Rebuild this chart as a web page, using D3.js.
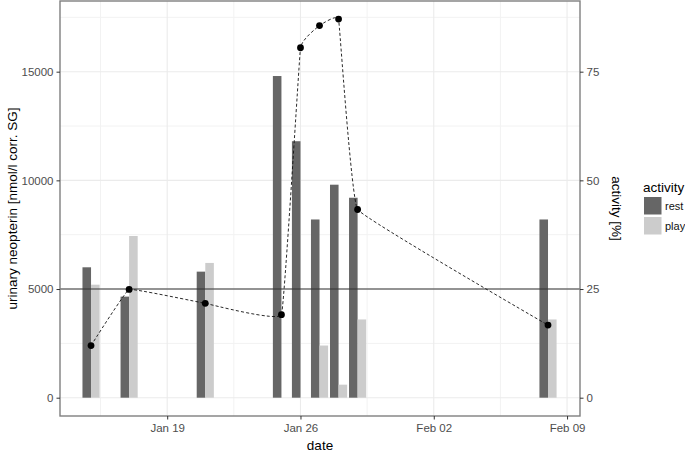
<!DOCTYPE html>
<html>
<head>
<meta charset="utf-8">
<script src="https://cdn.jsdelivr.net/npm/d3@7"></script>
<style>
  body { margin: 0; background: #fff; }
  text { font-family: "Liberation Sans", Arial, sans-serif; }
</style>
</head>
<body>
<svg width="685" height="453"></svg>
<script>
const width = 685;
const height = 453;

// sample dates
const dates = ['2016-01-15', '2016-01-17', '2016-01-21', '2016-01-25', '2016-01-26',
  '2016-01-27', '2016-01-28', '2016-01-29', '2016-02-08'];
// urinary neopterin per activity
const restValues = [6000, 4650, 5800, 14800, 11800, 8200, 9800, 9200, 8200];
const playValues = [5200, 7440, 6200, 0, 0, 2400, 600, 3600, 3600];
// activity [%] (right axis)
const activityPct = [12.0, 24.9, 21.7, 19.1, 80.5, 85.6, 87.1, 43.3, 16.7];

const xTicks = ['2016-01-19', '2016-01-26', '2016-02-02', '2016-02-09'];
const yTicks = [0, 5000, 10000, 15000];
const yMinor = [2500, 7500, 12500, 17500];
const y2Ticks = [0, 25, 50, 75];
const series = ['rest', 'play'];
const colors = ['#666666', '#cccccc'];

const parse = d3.timeParse('%Y-%m-%d');
const day = 864e5;

const margin = {left: 60, right: 105, top: 1, bottom: 37};
const pw = width - margin.left - margin.right;
const ph = height - margin.top - margin.bottom;

const svg = d3.select('svg');
const g = svg.append('g').attr('transform', `translate(${margin.left},${margin.top})`);

const x = d3.scaleTime()
  .domain([new Date(+parse('2016-01-19') - 5.63 * day), new Date(+parse('2016-02-09') + 0.68 * day)])
  .range([0, pw]);
const y = d3.scaleLinear().domain([-842, 18252]).range([ph, 0]);
const y2 = d3.scaleLinear().domain([-842 / 200, 18252 / 200]).range([ph, 0]);

// grid
const xMinor = d3.range(0, 4).map(i => new Date(+parse(xTicks[i]) - 3.5 * day));
g.selectAll('.hminor').data(yMinor).enter().append('line')
  .attr('x1', 0).attr('x2', pw).attr('y1', d => y(d)).attr('y2', d => y(d))
  .attr('stroke', '#f2f2f2').attr('stroke-width', 1);
g.selectAll('.vminor').data(xMinor).enter().append('line')
  .attr('y1', 0).attr('y2', ph).attr('x1', d => x(d)).attr('x2', d => x(d))
  .attr('stroke', '#f2f2f2').attr('stroke-width', 1);
g.selectAll('.hmajor').data(yTicks).enter().append('line')
  .attr('x1', 0).attr('x2', pw).attr('y1', d => y(d)).attr('y2', d => y(d))
  .attr('stroke', '#ebebeb').attr('stroke-width', 1.1);
g.selectAll('.vmajor').data(xTicks).enter().append('line')
  .attr('y1', 0).attr('y2', ph).attr('x1', d => x(parse(d))).attr('x2', d => x(parse(d)))
  .attr('stroke', '#ebebeb').attr('stroke-width', 1.1);

// bars
const barW = x(new Date(+parse(dates[0]) + 0.45 * day)) - x(parse(dates[0]));
const data = dates.map((d, i) => ({date: parse(d), vals: [restValues[i], playValues[i]]}));
data.forEach(d => {
  d.vals.forEach((v, k) => {
    if (v <= 0) return;
    g.append('rect')
      .attr('x', x(d.date) - barW + k * barW)
      .attr('width', barW)
      .attr('y', y(v))
      .attr('height', y(0) - y(v))
      .attr('fill', colors[k]);
  });
});

// reference line
g.append('line').attr('x1', 0).attr('x2', pw)
  .attr('y1', y(5000)).attr('y2', y(5000))
  .attr('stroke', '#333').attr('stroke-width', 1.1);

// activity line
const pts = dates.map((d, i) => [x(parse(d)), y2(activityPct[i])]);
g.append('path')
  .attr('d', d3.line().curve(d3.curveCardinal.tension(0.82))(pts))
  .attr('fill', 'none').attr('stroke', '#111').attr('stroke-width', 0.9)
  .attr('stroke-dasharray', '3,2.2');
g.selectAll('.pt').data(pts).enter().append('circle')
  .attr('cx', d => d[0]).attr('cy', d => d[1]).attr('r', 3.4).attr('fill', '#000');

// border
g.append('rect').attr('width', pw).attr('height', ph)
  .attr('fill', 'none').attr('stroke', '#7f7f7f').attr('stroke-width', 1.4);

// axes
const axL = g.append('g').call(d3.axisLeft(y).tickValues(yTicks).tickFormat(d3.format('d')).tickSize(3.5).tickPadding(3));
const axR = g.append('g').attr('transform', `translate(${pw},0)`)
  .call(d3.axisRight(y2).tickValues(y2Ticks).tickFormat(d3.format('d')).tickSize(3.5).tickPadding(3));
const axB = g.append('g').attr('transform', `translate(0,${ph})`)
  .call(d3.axisBottom(x).tickValues(xTicks.map(parse)).tickFormat(d3.timeFormat('%b %d')).tickSize(3.5).tickPadding(4));
[axL, axR, axB].forEach(a => {
  a.select('.domain').remove();
  a.selectAll('.tick line').attr('stroke', '#333');
  a.selectAll('.tick text').attr('fill', '#4d4d4d').style('font-size', '11.5px');
});

// titles
svg.append('text').attr('transform', `translate(12,${margin.top + ph / 2}) rotate(-90)`)
  .attr('text-anchor', 'middle').attr('dy', '0.35em').style('font-size', '13.5px')
  .text('urinary neopterin [nmol/l corr. SG]');
svg.append('text').attr('transform', `translate(617,${margin.top + ph / 2}) rotate(90)`)
  .attr('text-anchor', 'middle').attr('dy', '0.35em').style('font-size', '13.5px')
  .text('activity [%]');
svg.append('text').attr('x', margin.left + pw / 2).attr('y', 450)
  .attr('text-anchor', 'middle').style('font-size', '13.5px').text('date');

// legend
const lg = svg.append('g').attr('transform', 'translate(643,184)');
lg.append('text').attr('x', 0).attr('y', 8).style('font-size', '13.5px').text('activity');
series.forEach((s, i) => {
  lg.append('rect').attr('x', 1).attr('y', 13 + i * 20).attr('width', 17.5).attr('height', 17.5)
    .attr('fill', colors[i]);
  lg.append('text').attr('x', 22).attr('y', 22 + i * 20).attr('dy', '0.35em')
    .style('font-size', '11px').attr('fill', '#111').text(s);
});
</script>
</body>
</html>
